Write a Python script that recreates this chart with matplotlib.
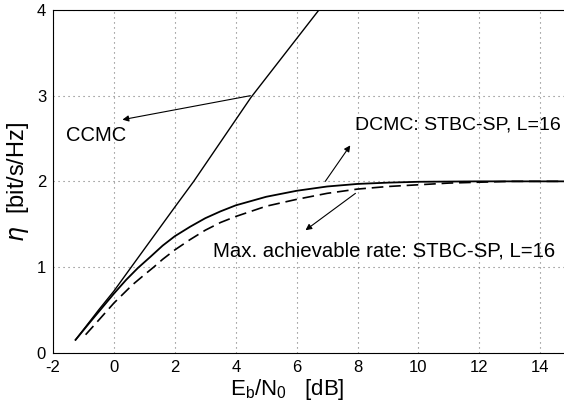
import numpy as np
import matplotlib
matplotlib.use('Agg')
import matplotlib.pyplot as plt

plt.rcParams['font.family'] = ['Liberation Sans', 'DejaVu Sans']
plt.rcParams['axes.unicode_minus'] = False

# values
ccmc_x = [-1.26, -0.5, 0.0, 0.57, 2.0, 2.62, 4.5, 6.73]
ccmc_y = [0.15, 0.50, 0.72, 1.0, 1.70, 2.0, 2.98, 4.0]

dcmc_x = [-1.26, -0.8, -0.4, 0.0, 0.4, 0.79, 1.2, 1.6, 2.0, 2.5, 3.0, 3.5, 4.0, 5.0, 6.0, 7.0, 8.0, 9.0, 10.0, 12.0, 15.0]
dcmc_y = [0.15, 0.35, 0.52, 0.69, 0.85, 0.99, 1.12, 1.25, 1.36, 1.47, 1.57, 1.65, 1.72, 1.82, 1.89, 1.94, 1.97, 1.985, 1.995, 2.0, 2.0]

max_x = [-0.93, -0.5, 0.0, 0.6, 1.0, 1.31, 1.6, 2.0, 2.5, 3.0, 3.5, 4.0, 5.0, 6.0, 7.0, 8.0, 9.0, 10.0, 11.0, 12.0, 13.0, 15.0]
max_y = [0.21, 0.38, 0.58, 0.79, 0.91, 1.0, 1.09, 1.20, 1.32, 1.43, 1.52, 1.59, 1.71, 1.79, 1.86, 1.91, 1.94, 1.96, 1.98, 1.99, 2.0, 2.0]

xticks = [-2, 0, 2, 4, 6, 8, 10, 12, 14]
yticks = [0, 1, 2, 3, 4]

fig = plt.figure(figsize=(5.64, 4.08), dpi=100)
ax = fig.add_axes([0.094, 0.1355, 0.918, 0.84])

ax.plot(ccmc_x, ccmc_y, color='black', lw=1.0)
ax.plot(dcmc_x, dcmc_y, color='black', lw=1.3)
ax.plot(max_x, max_y, color='black', lw=1.2, dashes=(7, 3.5))

ax.set_xlim(-2, 15)
ax.set_ylim(0, 4)
ax.set_xticks(xticks)
ax.set_yticks(yticks)
ax.tick_params(length=0, labelsize=12, pad=5)
ax.grid(True, color='#777777', linestyle=(0, (1, 3.5)), lw=0.8)
ax.spines['right'].set_visible(False)

ax.set_xlabel(r'E$_\mathregular{b}$/N$_\mathregular{0}$   [dB]', fontsize=16)
ax.xaxis.set_label_coords(0.453, -0.07)
ax.set_ylabel(r'$\eta$  [bit/s/Hz]', fontsize=17)
ax.yaxis.set_label_coords(-0.042, 0.5)

arr = dict(arrowstyle='-|>', color='black', lw=0.8, mutation_scale=9, shrinkA=0, shrinkB=0)
ax.annotate('', xy=(0.28, 2.72), xytext=(4.48, 3.0), arrowprops=arr)
ax.text(-1.58, 2.54, 'CCMC', fontsize=14.5, va='center', ha='left')

ax.annotate('', xy=(7.76, 2.42), xytext=(6.94, 2.0), arrowprops=arr)
ax.text(7.93, 2.66, 'DCMC: STBC-SP, L=16', fontsize=14, va='center', ha='left')

ax.annotate('', xy=(6.29, 1.43), xytext=(7.93, 1.86), arrowprops=arr)
ax.text(3.25, 1.19, 'Max. achievable rate: STBC-SP, L=16', fontsize=14.7, va='center', ha='left')

fig.savefig('out.png', dpi=100)
